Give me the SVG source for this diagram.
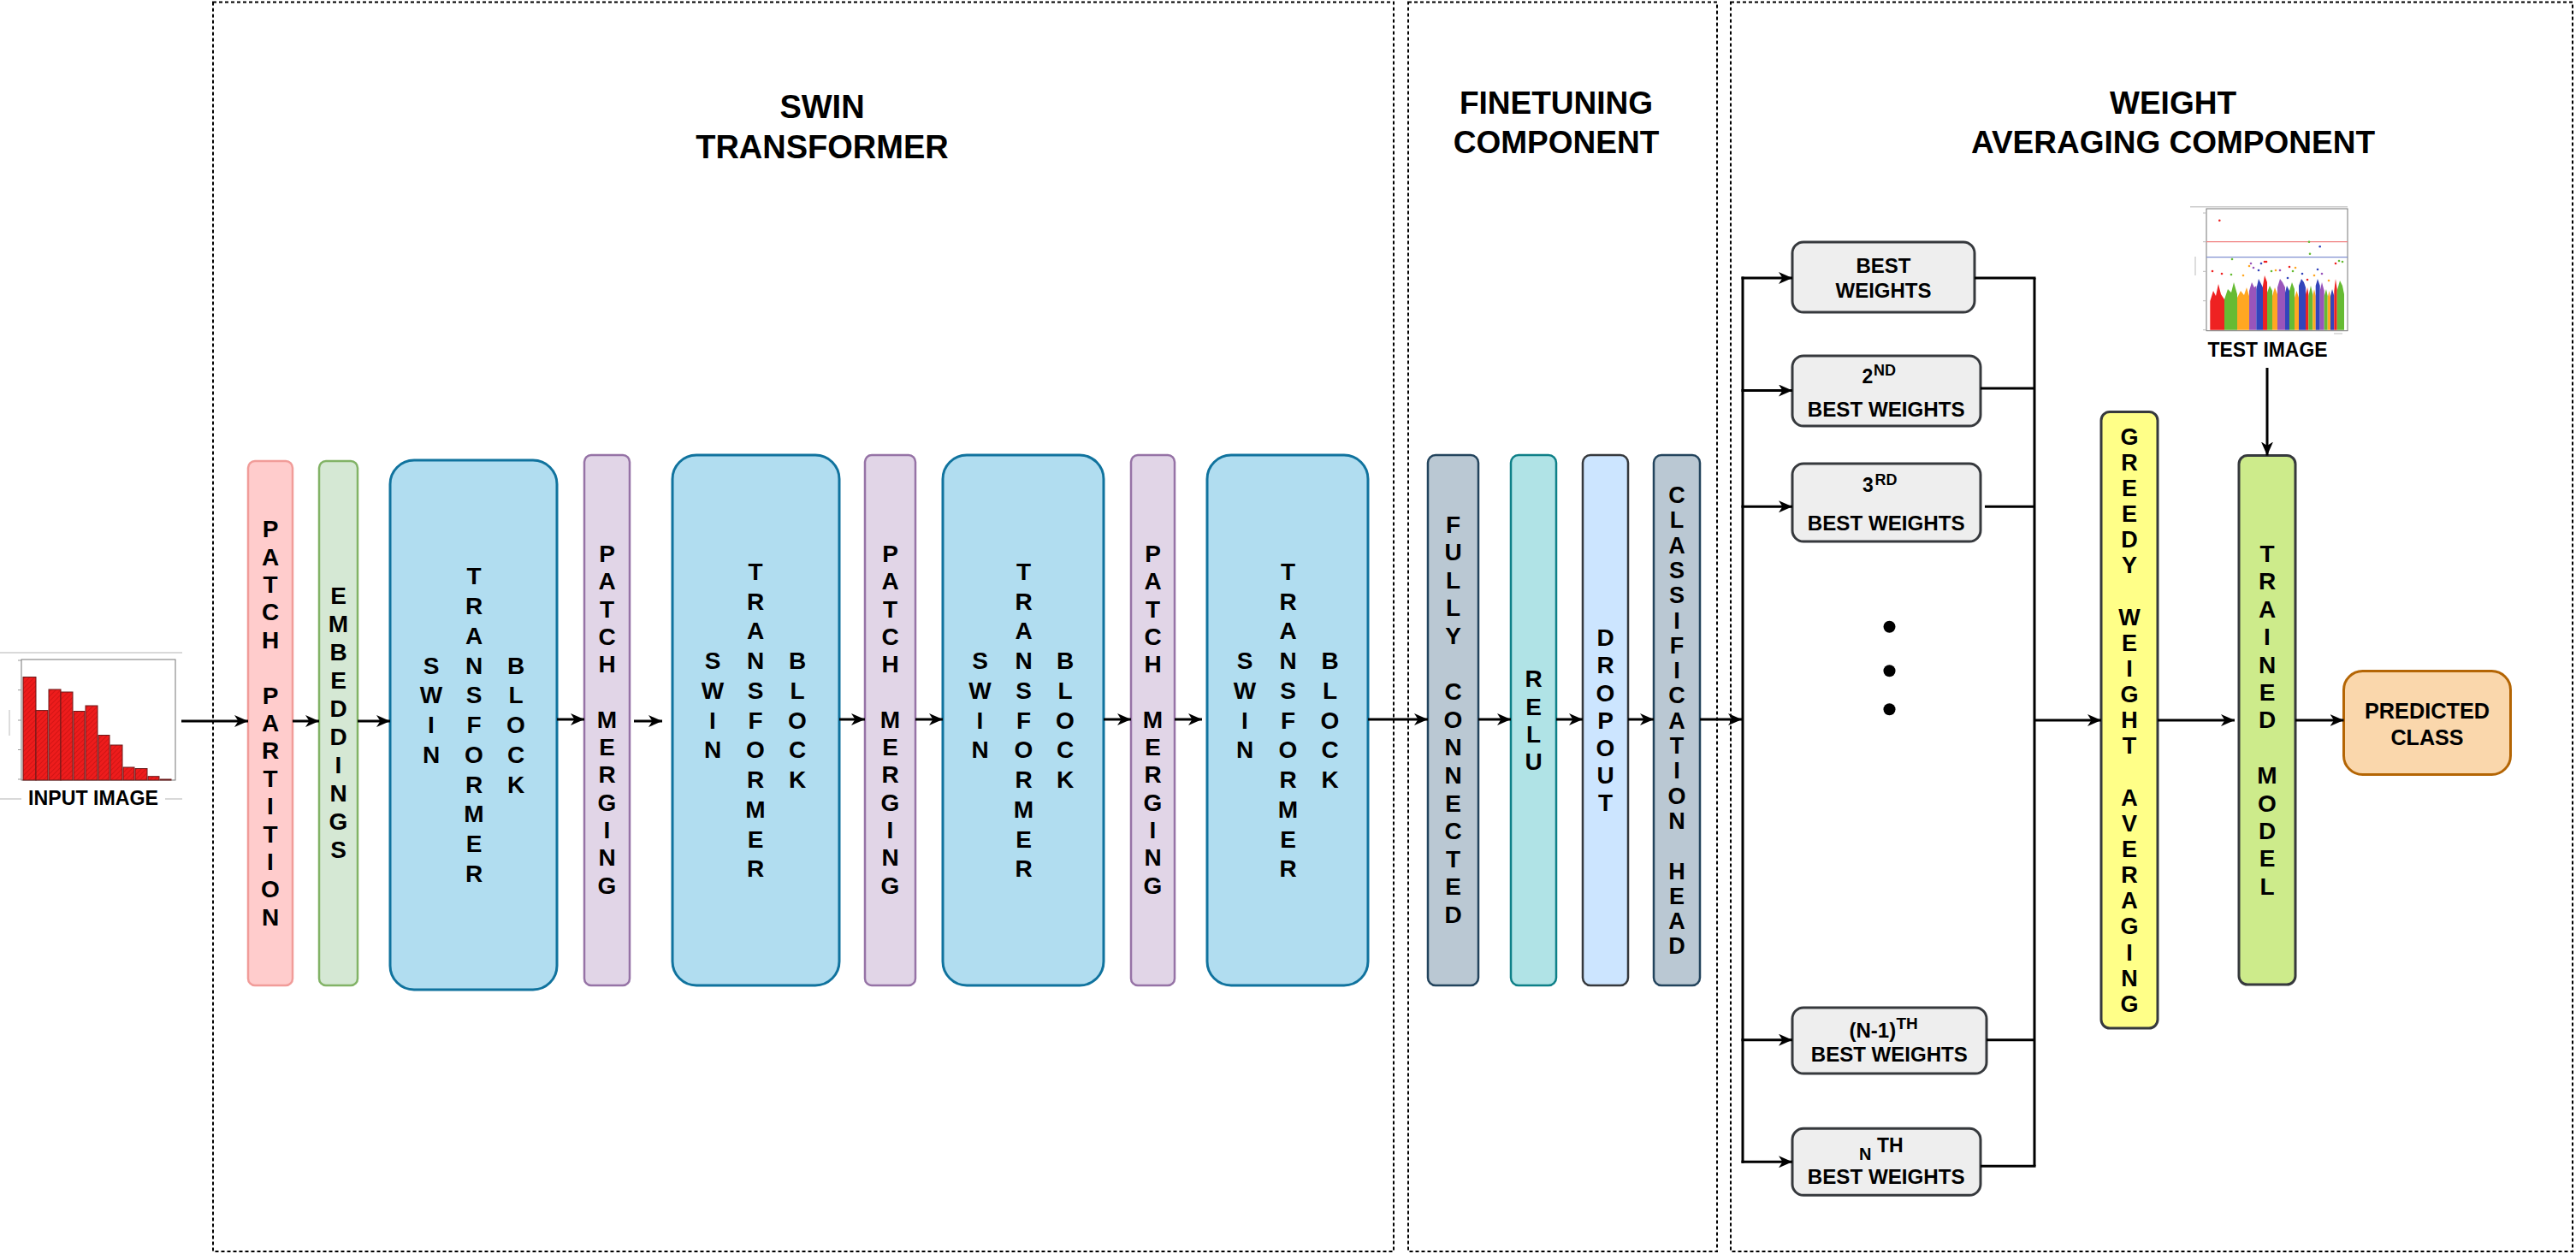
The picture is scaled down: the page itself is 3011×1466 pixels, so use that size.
<svg xmlns="http://www.w3.org/2000/svg" width="3011" height="1466" viewBox="0 0 3011 1466">
<style>
text{font-family:"Liberation Sans",Arial,Helvetica,sans-serif;font-weight:bold;fill:#000}
.vt{font-size:28px;text-anchor:middle}
.vs{font-size:27px;text-anchor:middle}
.ttl{font-size:38px;text-anchor:middle}
.ttl2{font-size:37px;text-anchor:middle}
.bw{font-size:24px;text-anchor:middle}
.sup{font-size:18px}
.num{font-size:23px}
.cap{font-size:23px;text-anchor:middle}
.dash{fill:none;stroke:#000;stroke-width:2;stroke-dasharray:4 3}
.c{stroke:#000;stroke-width:3;fill:none}
.a{marker-end:url(#ah)}
.pp{fill:#ffcccc;stroke:#f19c99;stroke-width:2.5}
.emb{fill:#d5e8d4;stroke:#82b366;stroke-width:2.5}
.swin{fill:#b1ddf0;stroke:#10739e;stroke-width:3}
.pm{fill:#e1d5e7;stroke:#9673a6;stroke-width:2.5}
.fc{fill:#bac8d3;stroke:#23445d;stroke-width:2.5}
.relu{fill:#b0e3e6;stroke:#0e8088;stroke-width:2.5}
.drop{fill:#cce5ff;stroke:#36393d;stroke-width:2.5}
.wt{fill:#eeeeee;stroke:#36393d;stroke-width:3}
.gwa{fill:#ffff88;stroke:#36393d;stroke-width:3}
.tm{fill:#cdeb8b;stroke:#36393d;stroke-width:3}
.pred{fill:#fad7ac;stroke:#b46504;stroke-width:3}
.ax{fill:none;stroke:#777;stroke-width:1}
.bar{fill:url(#hatch);stroke:#6b1a1a;stroke-width:1}
</style>
<defs>
<marker id="ah" markerUnits="userSpaceOnUse" markerWidth="16" markerHeight="14" refX="16" refY="7" orient="auto">
<path d="M0,0 L16,7 L0,14 L4.5,7 z" fill="#000"/>
</marker>
<pattern id="hatch" width="4" height="4" patternUnits="userSpaceOnUse" patternTransform="rotate(45)">
<rect width="4" height="4" fill="#ee1c1c"/>
<line x1="0" y1="0" x2="0" y2="4" stroke="#c81212" stroke-width="1.5"/>
</pattern>
</defs>
<rect width="3011" height="1466" fill="#fff"/>

<!-- component frames -->
<g id="frames">
<rect class="dash" x="249" y="2.5" width="1380" height="1460.5"/>
<rect class="dash" x="1646" y="2.5" width="361" height="1460.5"/>
<rect class="dash" x="2023" y="2.5" width="984" height="1460.5"/>
<text class="ttl" x="961" y="138">SWIN</text>
<text class="ttl" x="961" y="185">TRANSFORMER</text>
<text class="ttl2" x="1819" y="133">FINETUNING</text>
<text class="ttl2" x="1819" y="179">COMPONENT</text>
<text class="ttl2" x="2540" y="133">WEIGHT</text>
<text class="ttl2" x="2540" y="179">AVERAGING COMPONENT</text>
</g>

<!-- input image -->
<g id="input-image">
<line x1="0" y1="763" x2="213" y2="763" stroke="#ccc" stroke-width="1.5"/>
<line x1="0" y1="934" x2="25" y2="934" stroke="#ccc" stroke-width="1.5"/>
<line x1="193" y1="934" x2="213" y2="934" stroke="#ccc" stroke-width="1.5"/>
<rect class="ax" x="25" y="771" width="180" height="141"/>
<g stroke="#999" stroke-width="1">
<line x1="21" y1="772" x2="25" y2="772"/><line x1="21" y1="806.7" x2="25" y2="806.7"/><line x1="21" y1="842" x2="25" y2="842"/><line x1="21" y1="876.5" x2="25" y2="876.5"/><line x1="21" y1="911" x2="25" y2="911"/>
<line x1="11" y1="830" x2="11" y2="860" stroke="#bbb"/>
</g>
<rect class="bar" x="27" y="791.5" width="15" height="120.5"/>
<rect class="bar" x="42" y="830.6" width="14" height="81.4"/>
<rect class="bar" x="57" y="806" width="14" height="106"/>
<rect class="bar" x="71" y="809" width="14" height="103"/>
<rect class="bar" x="86" y="831.5" width="13" height="80.5"/>
<rect class="bar" x="100" y="825" width="14" height="87"/>
<rect class="bar" x="115" y="859.5" width="13" height="52.5"/>
<rect class="bar" x="129" y="871" width="14" height="41"/>
<rect class="bar" x="144" y="897" width="13" height="15"/>
<rect class="bar" x="158" y="898.5" width="14" height="13.5"/>
<rect class="bar" x="173" y="907.7" width="13" height="4.3"/>
<rect class="bar" x="187" y="911" width="13" height="1"/>
<text x="109" y="941" style="font-size:24px;text-anchor:middle" textLength="152" lengthAdjust="spacingAndGlyphs">INPUT IMAGE</text>
</g>

<!-- swin transformer nodes -->
<g id="patch-partition">
<rect class="pp" x="290" y="539" width="52" height="613" rx="8"/>
<text class="vt" transform="translate(316,845.3)"><tspan x="0" y="-217.1">P</tspan><tspan x="0" y="-184.7">A</tspan><tspan x="0" y="-152.3">T</tspan><tspan x="0" y="-119.9">C</tspan><tspan x="0" y="-87.5">H</tspan><tspan x="0" y="-22.7">P</tspan><tspan x="0" y="9.7">A</tspan><tspan x="0" y="42.1">R</tspan><tspan x="0" y="74.5">T</tspan><tspan x="0" y="106.9">I</tspan><tspan x="0" y="139.3">T</tspan><tspan x="0" y="171.7">I</tspan><tspan x="0" y="204.1">O</tspan><tspan x="0" y="236.5">N</tspan></text>
</g>
<g id="embeddings">
<rect class="emb" x="373" y="539" width="45" height="613" rx="8"/>
<text class="vt" transform="translate(395.5,845)"><tspan x="0" y="-138.8">E</tspan><tspan x="0" y="-105.8">M</tspan><tspan x="0" y="-72.8">B</tspan><tspan x="0" y="-39.8">E</tspan><tspan x="0" y="-6.8">D</tspan><tspan x="0" y="26.2">D</tspan><tspan x="0" y="59.2">I</tspan><tspan x="0" y="92.2">N</tspan><tspan x="0" y="125.2">G</tspan><tspan x="0" y="158.2">S</tspan></text>
</g>

<g id="swin-block-1">
<rect class="swin" x="456" y="538" width="195" height="619" rx="28"/>
<text class="vt" transform="translate(554,847.5)"><tspan x="-50" y="-59.8">S</tspan><tspan x="-50" y="-25.05">W</tspan><tspan x="-50" y="9.7">I</tspan><tspan x="-50" y="44.45">N</tspan><tspan x="0" y="-164.05">T</tspan><tspan x="0" y="-129.3">R</tspan><tspan x="0" y="-94.55">A</tspan><tspan x="0" y="-59.8">N</tspan><tspan x="0" y="-25.05">S</tspan><tspan x="0" y="9.7">F</tspan><tspan x="0" y="44.45">O</tspan><tspan x="0" y="79.2">R</tspan><tspan x="0" y="113.95">M</tspan><tspan x="0" y="148.7">E</tspan><tspan x="0" y="183.45">R</tspan><tspan x="49" y="-59.8">B</tspan><tspan x="49" y="-25.05">L</tspan><tspan x="49" y="9.7">O</tspan><tspan x="49" y="44.45">C</tspan><tspan x="49" y="79.2">K</tspan></text>
</g>
<g id="patch-merging-1">
<rect class="pm" x="683" y="532" width="53" height="620" rx="8"/>
<text class="vt" transform="translate(709.5,841)"><tspan x="0" y="-184.1">P</tspan><tspan x="0" y="-151.8">A</tspan><tspan x="0" y="-119.5">T</tspan><tspan x="0" y="-87.2">C</tspan><tspan x="0" y="-54.9">H</tspan><tspan x="0" y="9.7">M</tspan><tspan x="0" y="42">E</tspan><tspan x="0" y="74.3">R</tspan><tspan x="0" y="106.6">G</tspan><tspan x="0" y="138.9">I</tspan><tspan x="0" y="171.2">N</tspan><tspan x="0" y="203.5">G</tspan></text>
</g>
<g id="swin-block-2">
<rect class="swin" x="786" y="532" width="195" height="620" rx="28"/>
<text class="vt" transform="translate(883,842)"><tspan x="-50" y="-59.8">S</tspan><tspan x="-50" y="-25.05">W</tspan><tspan x="-50" y="9.7">I</tspan><tspan x="-50" y="44.45">N</tspan><tspan x="0" y="-164.05">T</tspan><tspan x="0" y="-129.3">R</tspan><tspan x="0" y="-94.55">A</tspan><tspan x="0" y="-59.8">N</tspan><tspan x="0" y="-25.05">S</tspan><tspan x="0" y="9.7">F</tspan><tspan x="0" y="44.45">O</tspan><tspan x="0" y="79.2">R</tspan><tspan x="0" y="113.95">M</tspan><tspan x="0" y="148.7">E</tspan><tspan x="0" y="183.45">R</tspan><tspan x="49" y="-59.8">B</tspan><tspan x="49" y="-25.05">L</tspan><tspan x="49" y="9.7">O</tspan><tspan x="49" y="44.45">C</tspan><tspan x="49" y="79.2">K</tspan></text>
</g>
<g id="patch-merging-2">
<rect class="pm" x="1011" y="532" width="59" height="620" rx="8"/>
<text class="vt" transform="translate(1040.5,841)"><tspan x="0" y="-184.1">P</tspan><tspan x="0" y="-151.8">A</tspan><tspan x="0" y="-119.5">T</tspan><tspan x="0" y="-87.2">C</tspan><tspan x="0" y="-54.9">H</tspan><tspan x="0" y="9.7">M</tspan><tspan x="0" y="42">E</tspan><tspan x="0" y="74.3">R</tspan><tspan x="0" y="106.6">G</tspan><tspan x="0" y="138.9">I</tspan><tspan x="0" y="171.2">N</tspan><tspan x="0" y="203.5">G</tspan></text>
</g>
<g id="swin-block-3">
<rect class="swin" x="1102" y="532" width="188" height="620" rx="28"/>
<text class="vt" transform="translate(1196.5,842)"><tspan x="-51" y="-59.8">S</tspan><tspan x="-51" y="-25.05">W</tspan><tspan x="-51" y="9.7">I</tspan><tspan x="-51" y="44.45">N</tspan><tspan x="0" y="-164.05">T</tspan><tspan x="0" y="-129.3">R</tspan><tspan x="0" y="-94.55">A</tspan><tspan x="0" y="-59.8">N</tspan><tspan x="0" y="-25.05">S</tspan><tspan x="0" y="9.7">F</tspan><tspan x="0" y="44.45">O</tspan><tspan x="0" y="79.2">R</tspan><tspan x="0" y="113.95">M</tspan><tspan x="0" y="148.7">E</tspan><tspan x="0" y="183.45">R</tspan><tspan x="48.5" y="-59.8">B</tspan><tspan x="48.5" y="-25.05">L</tspan><tspan x="48.5" y="9.7">O</tspan><tspan x="48.5" y="44.45">C</tspan><tspan x="48.5" y="79.2">K</tspan></text>
</g>
<g id="patch-merging-3">
<rect class="pm" x="1322" y="532" width="51" height="620" rx="8"/>
<text class="vt" transform="translate(1347.5,841)"><tspan x="0" y="-184.1">P</tspan><tspan x="0" y="-151.8">A</tspan><tspan x="0" y="-119.5">T</tspan><tspan x="0" y="-87.2">C</tspan><tspan x="0" y="-54.9">H</tspan><tspan x="0" y="9.7">M</tspan><tspan x="0" y="42">E</tspan><tspan x="0" y="74.3">R</tspan><tspan x="0" y="106.6">G</tspan><tspan x="0" y="138.9">I</tspan><tspan x="0" y="171.2">N</tspan><tspan x="0" y="203.5">G</tspan></text>
</g>
<g id="swin-block-4">
<rect class="swin" x="1411" y="532" width="188" height="620" rx="28"/>
<text class="vt" transform="translate(1505.5,842)"><tspan x="-50.5" y="-59.8">S</tspan><tspan x="-50.5" y="-25.05">W</tspan><tspan x="-50.5" y="9.7">I</tspan><tspan x="-50.5" y="44.45">N</tspan><tspan x="0" y="-164.05">T</tspan><tspan x="0" y="-129.3">R</tspan><tspan x="0" y="-94.55">A</tspan><tspan x="0" y="-59.8">N</tspan><tspan x="0" y="-25.05">S</tspan><tspan x="0" y="9.7">F</tspan><tspan x="0" y="44.45">O</tspan><tspan x="0" y="79.2">R</tspan><tspan x="0" y="113.95">M</tspan><tspan x="0" y="148.7">E</tspan><tspan x="0" y="183.45">R</tspan><tspan x="49" y="-59.8">B</tspan><tspan x="49" y="-25.05">L</tspan><tspan x="49" y="9.7">O</tspan><tspan x="49" y="44.45">C</tspan><tspan x="49" y="79.2">K</tspan></text>
</g>

<!-- finetuning component -->
<g id="fully-connected">
<rect class="fc" x="1669" y="532" width="59" height="620" rx="9"/>
<text class="vt" transform="translate(1698.5,841)"><tspan x="0" y="-218.5">F</tspan><tspan x="0" y="-185.9">U</tspan><tspan x="0" y="-153.3">L</tspan><tspan x="0" y="-120.7">L</tspan><tspan x="0" y="-88.1">Y</tspan><tspan x="0" y="-22.9">C</tspan><tspan x="0" y="9.7">O</tspan><tspan x="0" y="42.3">N</tspan><tspan x="0" y="74.9">N</tspan><tspan x="0" y="107.5">E</tspan><tspan x="0" y="140.1">C</tspan><tspan x="0" y="172.7">T</tspan><tspan x="0" y="205.3">E</tspan><tspan x="0" y="237.9">D</tspan></text>
</g>
<g id="relu">
<rect class="relu" x="1766" y="532" width="53" height="620" rx="9"/>
<text class="vt" transform="translate(1792.5,842)"><tspan x="0" y="-38.6">R</tspan><tspan x="0" y="-6.4">E</tspan><tspan x="0" y="25.8">L</tspan><tspan x="0" y="58">U</tspan></text>
</g>
<g id="dropout">
<rect class="drop" x="1850" y="532" width="53" height="620" rx="9"/>
<text class="vt" transform="translate(1876.5,842)"><tspan x="0" y="-86.75">D</tspan><tspan x="0" y="-54.6">R</tspan><tspan x="0" y="-22.45">O</tspan><tspan x="0" y="9.7">P</tspan><tspan x="0" y="41.85">O</tspan><tspan x="0" y="74">U</tspan><tspan x="0" y="106.15">T</tspan></text>
</g>
<g id="classification-head">
<rect class="fc" x="1933" y="532" width="54" height="620" rx="9"/>
<text class="vs" transform="translate(1960,842)"><tspan x="0" y="-254">C</tspan><tspan x="0" y="-224.7">L</tspan><tspan x="0" y="-195.4">A</tspan><tspan x="0" y="-166.1">S</tspan><tspan x="0" y="-136.8">S</tspan><tspan x="0" y="-107.5">I</tspan><tspan x="0" y="-78.2">F</tspan><tspan x="0" y="-48.9">I</tspan><tspan x="0" y="-19.6">C</tspan><tspan x="0" y="9.7">A</tspan><tspan x="0" y="39">T</tspan><tspan x="0" y="68.3">I</tspan><tspan x="0" y="97.6">O</tspan><tspan x="0" y="126.9">N</tspan><tspan x="0" y="185.5">H</tspan><tspan x="0" y="214.8">E</tspan><tspan x="0" y="244.1">A</tspan><tspan x="0" y="273.4">D</tspan></text>
</g>

<!-- weight averaging component -->
<g id="best-weights">
<rect class="wt" x="2095" y="283" width="213" height="82" rx="13"/>
<text class="bw" x="2201.5" y="318.6">BEST</text>
<text class="bw" x="2201.5" y="347.6">WEIGHTS</text>
</g>
<g id="best-weights-2nd">
<rect class="wt" x="2095" y="416" width="220" height="82" rx="13"/>
<text x="2176.5" y="448.3"><tspan class="num">2</tspan><tspan class="sup" x="2190" y="439.3">ND</tspan></text>
<text class="bw" x="2204.7" y="487.3" textLength="184" lengthAdjust="spacingAndGlyphs">BEST WEIGHTS</text>
</g>
<g id="best-weights-3rd">
<rect class="wt" x="2095" y="542" width="220" height="91" rx="13"/>
<text x="2177" y="575"><tspan class="num">3</tspan><tspan class="sup" x="2191.5" y="566.7">RD</tspan></text>
<text class="bw" x="2204.7" y="620" textLength="184" lengthAdjust="spacingAndGlyphs">BEST WEIGHTS</text>
</g>
<g id="ellipsis">
<circle cx="2208.5" cy="732.7" r="7"/>
<circle cx="2208.5" cy="784.3" r="7"/>
<circle cx="2208.5" cy="829.3" r="7"/>
</g>
<g id="best-weights-n-1th">
<rect class="wt" x="2095" y="1178" width="227" height="77" rx="13"/>
<text x="2161.5" y="1213.3"><tspan class="num" style="font-size:24px">(N-1)</tspan><tspan style="font-size:19px" x="2216.5" y="1203.3">TH</tspan></text>
<text class="bw" x="2208.3" y="1241" textLength="183" lengthAdjust="spacingAndGlyphs">BEST WEIGHTS</text>
</g>
<g id="best-weights-nth">
<rect class="wt" x="2095" y="1319.3" width="220" height="78" rx="13"/>
<text x="2173" y="1355.5"><tspan style="font-size:20px">N</tspan><tspan style="font-size:23px" x="2194" y="1347">TH</tspan></text>
<text class="bw" x="2204.7" y="1384.3" textLength="184" lengthAdjust="spacingAndGlyphs">BEST WEIGHTS</text>
</g>

<g id="greedy-weight-averaging">
<rect class="gwa" x="2456" y="481.5" width="66" height="720.5" rx="10"/>
<text class="vs" transform="translate(2489,841.7)"><tspan x="0" y="-322.15">G</tspan><tspan x="0" y="-292">R</tspan><tspan x="0" y="-261.85">E</tspan><tspan x="0" y="-231.7">E</tspan><tspan x="0" y="-201.55">D</tspan><tspan x="0" y="-171.4">Y</tspan><tspan x="0" y="-111.1">W</tspan><tspan x="0" y="-80.95">E</tspan><tspan x="0" y="-50.8">I</tspan><tspan x="0" y="-20.65">G</tspan><tspan x="0" y="9.5">H</tspan><tspan x="0" y="39.65">T</tspan><tspan x="0" y="99.95">A</tspan><tspan x="0" y="130.1">V</tspan><tspan x="0" y="160.25">E</tspan><tspan x="0" y="190.4">R</tspan><tspan x="0" y="220.55">A</tspan><tspan x="0" y="250.7">G</tspan><tspan x="0" y="280.85">I</tspan><tspan x="0" y="311">N</tspan><tspan x="0" y="341.15">G</tspan></text>
</g>

<g id="test-image">
<line x1="2560" y1="241.7" x2="2744" y2="241.7" stroke="#ccc" stroke-width="1.5"/>
<rect class="ax" x="2579" y="244" width="165" height="142.7" stroke="#bbb"/>
<g stroke="#bbb" stroke-width="1">
<line x1="2575" y1="249" x2="2579" y2="249"/><line x1="2575" y1="282.7" x2="2579" y2="282.7"/><line x1="2575" y1="317.3" x2="2579" y2="317.3"/><line x1="2575" y1="351.7" x2="2579" y2="351.7"/><line x1="2575" y1="385.7" x2="2579" y2="385.7"/>
<line x1="2566" y1="300" x2="2566" y2="322"/>
<line x1="2728" y1="390" x2="2738" y2="390"/>
</g>
<line x1="2579" y1="282.7" x2="2744" y2="282.7" stroke="#f08080" stroke-width="1.2"/>
<line x1="2579" y1="300.7" x2="2744" y2="300.7" stroke="#8090d0" stroke-width="1.2"/>
<g id="manhattan">
<polygon fill="#ee2222" points="2583.3,385.7 2583.3,352 2587,340 2590,346 2593,332 2596,344 2600,350 2600,385.7"/>
<polygon fill="#66bb33" points="2600,385.7 2600,350 2604,338 2608,342 2611,330 2615,344 2615,385.7"/>
<polygon fill="#ffa722" points="2615,385.7 2615,348 2619,340 2623,345 2626,336 2629,346 2629,385.7"/>
<polygon fill="#9955bb" points="2629,385.7 2629,340 2632,330 2635,336 2637.3,334 2637.3,385.7"/>
<polygon fill="#3344bb" points="2637.3,385.7 2637.3,338 2640,326 2643,332 2645,336 2645,385.7"/>
<polygon fill="#ee2222" points="2645,385.7 2645,334 2647,322 2650,330 2650,385.7"/>
<polygon fill="#66bb33" points="2650,385.7 2650,342 2653,334 2656,340 2656,385.7"/>
<polygon fill="#ffa722" points="2656,385.7 2656,346 2659,336 2662,344 2662,385.7"/>
<polygon fill="#9955bb" points="2662,385.7 2662,336 2665,326 2668,330 2671,336 2671,385.7"/>
<polygon fill="#3344bb" points="2671,385.7 2671,342 2673,334 2676,340 2676,385.7"/>
<polygon fill="#66bb33" points="2676,385.7 2676,340 2679,330 2682,338 2682,385.7"/>
<polygon fill="#ffa722" points="2682,385.7 2682,348 2684.5,340 2687,348 2687,385.7"/>
<polygon fill="#3344bb" points="2687,385.7 2687,334 2690,326 2693,330 2695,336 2695,385.7"/>
<polygon fill="#ee2222" points="2695,385.7 2695,344 2697,336 2698.3,344 2698.3,385.7"/>
<polygon fill="#66bb33" points="2698.3,385.7 2698.3,346 2701,334 2703.3,344 2703.3,385.7"/>
<polygon fill="#ffa722" points="2703.3,385.7 2703.3,346 2705,338 2706.7,346 2706.7,385.7"/>
<polygon fill="#3344bb" points="2706.7,385.7 2706.7,334 2709,326 2711.7,334 2711.7,385.7"/>
<polygon fill="#9955bb" points="2711.7,385.7 2711.7,340 2714,330 2716.7,340 2716.7,385.7"/>
<polygon fill="#66bb33" points="2716.7,385.7 2716.7,346 2719,338 2720.7,346 2720.7,385.7"/>
<polygon fill="#ffa722" points="2720.7,385.7 2720.7,348 2722.5,340 2724,348 2724,385.7"/>
<polygon fill="#3344bb" points="2724,385.7 2724,346 2726,338 2728.3,346 2728.3,385.7"/>
<polygon fill="#ee2222" points="2728.3,385.7 2728.3,340 2730,326 2731.7,338 2731.7,385.7"/>
<polygon fill="#66bb33" points="2731.7,385.7 2731.7,340 2735,328 2738,334 2740,344 2740,385.7"/>
<g>
<circle cx="2586" cy="317" r="1.3" fill="#ee2222"/><circle cx="2594.3" cy="257.7" r="1.3" fill="#ee2222"/><circle cx="2597" cy="320" r="1.3" fill="#ee2222"/>
<circle cx="2609" cy="303" r="1.3" fill="#66bb33"/><circle cx="2608" cy="321" r="1.3" fill="#66bb33"/>
<circle cx="2622" cy="322" r="1.3" fill="#ffa722"/><circle cx="2629" cy="311" r="1.3" fill="#ffa722"/>
<circle cx="2631" cy="308" r="1.3" fill="#9955bb"/><circle cx="2634" cy="313" r="1.3" fill="#9955bb"/>
<circle cx="2640" cy="316" r="1.3" fill="#3344bb"/><circle cx="2643" cy="308" r="1.3" fill="#3344bb"/>
<circle cx="2647" cy="306" r="1.3" fill="#ee2222"/><circle cx="2649" cy="306" r="1.3" fill="#ee2222"/>
<circle cx="2655" cy="317" r="1.3" fill="#66bb33"/><circle cx="2660" cy="316" r="1.3" fill="#ffa722"/>
<circle cx="2665" cy="316" r="1.3" fill="#9955bb"/><circle cx="2674" cy="325" r="1.3" fill="#3344bb"/>
<circle cx="2676" cy="312" r="1.3" fill="#ee2222"/><circle cx="2680" cy="317" r="1.3" fill="#66bb33"/>
<circle cx="2683" cy="313" r="1.3" fill="#ffa722"/><circle cx="2691" cy="320" r="1.3" fill="#3344bb"/>
<circle cx="2697" cy="327" r="1.3" fill="#ee2222"/><circle cx="2699" cy="282.7" r="1.3" fill="#66bb33"/>
<circle cx="2700" cy="296.7" r="1.3" fill="#66bb33"/><circle cx="2705" cy="322" r="1.3" fill="#ffa722"/>
<circle cx="2709" cy="315" r="1.3" fill="#3344bb"/><circle cx="2711.7" cy="288.3" r="1.3" fill="#3344bb"/>
<circle cx="2714" cy="320" r="1.3" fill="#9955bb"/><circle cx="2722" cy="328" r="1.3" fill="#ffa722"/>
<circle cx="2730" cy="308" r="1.3" fill="#ee2222"/><circle cx="2734" cy="305" r="1.3" fill="#66bb33"/>
<circle cx="2738" cy="306" r="1.3" fill="#66bb33"/>
</g>
</g>
<rect x="2573" y="393" width="155" height="34" fill="#fff"/>
<text class="cap" x="2650.5" y="416.7" textLength="140" lengthAdjust="spacingAndGlyphs">TEST IMAGE</text>
</g>

<g id="trained-model">
<rect class="tm" x="2617" y="532.5" width="66" height="618.5" rx="10"/>
<text class="vt" transform="translate(2650,841.7)"><tspan x="0" y="-184.7">T</tspan><tspan x="0" y="-152.3">R</tspan><tspan x="0" y="-119.9">A</tspan><tspan x="0" y="-87.5">I</tspan><tspan x="0" y="-55.1">N</tspan><tspan x="0" y="-22.7">E</tspan><tspan x="0" y="9.7">D</tspan><tspan x="0" y="74.5">M</tspan><tspan x="0" y="106.9">O</tspan><tspan x="0" y="139.3">D</tspan><tspan x="0" y="171.7">E</tspan><tspan x="0" y="204.1">L</tspan></text>
</g>
<g id="predicted-class">
<rect class="pred" x="2739.5" y="784.5" width="195" height="121" rx="22"/>
<text x="2837" y="840" style="font-size:26px;text-anchor:middle" textLength="146" lengthAdjust="spacingAndGlyphs">PREDICTED</text>
<text x="2837" y="870.5" style="font-size:26px;text-anchor:middle" textLength="85" lengthAdjust="spacingAndGlyphs">CLASS</text>
</g>

<!-- connectors -->
<g id="connectors">
<line class="c a" x1="212" y1="843" x2="290" y2="843"/>
<line class="c a" x1="342" y1="843" x2="373" y2="843"/>
<line class="c a" x1="418" y1="843" x2="456" y2="843"/>
<line class="c a" x1="651" y1="841" x2="683" y2="841"/>
<line class="c a" x1="741" y1="843" x2="774" y2="843"/>
<line class="c a" x1="981" y1="841" x2="1011" y2="841"/>
<line class="c a" x1="1070" y1="841" x2="1102" y2="841"/>
<line class="c a" x1="1290" y1="841" x2="1322" y2="841"/>
<line class="c a" x1="1373" y1="841" x2="1405" y2="841"/>
<line class="c a" x1="1599" y1="841" x2="1669" y2="841"/>
<line class="c a" x1="1728" y1="841" x2="1766" y2="841"/>
<line class="c a" x1="1819" y1="841" x2="1850" y2="841"/>
<line class="c a" x1="1903" y1="841" x2="1933" y2="841"/>
<line class="c a" x1="1987" y1="841" x2="2036" y2="841"/>
<line class="c" x1="2037" y1="323.5" x2="2037" y2="1359.8"/>
<line class="c a" x1="2035.5" y1="325" x2="2095" y2="325"/>
<line class="c a" x1="2035.5" y1="456.5" x2="2095" y2="456.5"/>
<line class="c a" x1="2035.5" y1="592.3" x2="2095" y2="592.3"/>
<line class="c a" x1="2035.5" y1="1215.7" x2="2095" y2="1215.7"/>
<line class="c a" x1="2035.5" y1="1358.3" x2="2095" y2="1358.3"/>
<line class="c" x1="2308" y1="325" x2="2379.5" y2="325"/>
<line class="c" x1="2315" y1="454" x2="2378" y2="454"/>
<line class="c" x1="2320" y1="592.3" x2="2378" y2="592.3"/>
<line class="c" x1="2322" y1="1215.7" x2="2378" y2="1215.7"/>
<line class="c" x1="2315" y1="1363.3" x2="2379.5" y2="1363.3"/>
<line class="c" x1="2378" y1="325" x2="2378" y2="1363.3"/>
<line class="c a" x1="2378" y1="842" x2="2456" y2="842"/>
<line class="c a" x1="2522" y1="842" x2="2612" y2="842"/>
<line class="c a" x1="2683" y1="842" x2="2739.5" y2="842"/>
<line class="c a" x1="2650" y1="430" x2="2650" y2="532.5"/>
</g>
</svg>
